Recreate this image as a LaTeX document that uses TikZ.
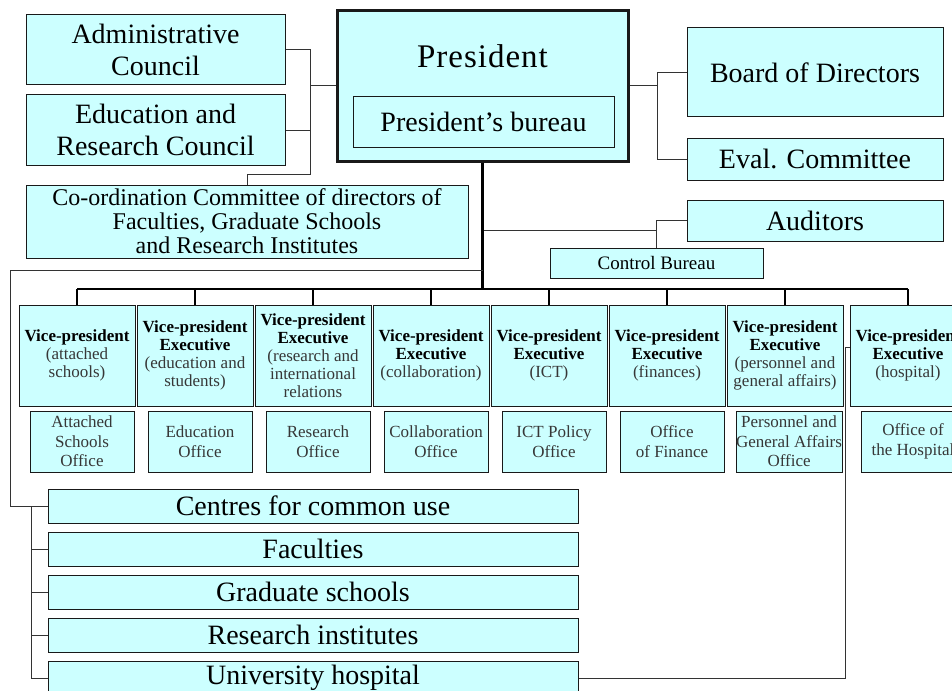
\documentclass[tikz,border=0pt]{standalone}
\usepackage{fontspec}
\setmainfont{Liberation Serif}
\usepackage{xcolor}
\usetikzlibrary{positioning}

\definecolor{boxcyan}{RGB}{204,255,255}
\definecolor{txtgray}{RGB}{55,55,55}
\newcommand{\vpsub}[1]{\textcolor{txtgray}{#1}}

\begin{document}
\begin{tikzpicture}[
  x=1pt, y=-1pt,
  every node/.style={inner sep=0pt},
  box/.style={rectangle, draw=black!90, fill=boxcyan, line width=1pt, align=center},
  bigbox/.style={box, font=\fontsize{28}{32}\selectfont},
  vpbox/.style={box, minimum width=116pt, minimum height=101pt,
                font=\fontsize{17}{18}\selectfont},
  office/.style={box, minimum width=104pt, minimum height=61pt, text=txtgray,
                 font=\fontsize{17}{19.5}\selectfont},
  unit/.style={bigbox, minimum width=530pt, minimum height=34pt},
  link/.style={draw=black!80, line width=1pt},
  drop/.style={draw=black, line width=1.2pt},
  trunk/.style={draw=black, line width=2.6pt}
]
\useasboundingbox (0,0) rectangle (952,690);
\clip (0,0) rectangle (952,690);

% ── President and councils ─────────────────────
\node[box, line width=3pt, minimum width=291pt, minimum height=150pt] (pres) at (482.5,86) {};
\node[anchor=base, font=\fontsize{33}{33}\selectfont\addfontfeature{LetterSpace=3}] (prestitle) at (482.5,68) {President};
\node[bigbox, minimum width=261pt, minimum height=50pt] (bureau) at (483.5,122) {President’s bureau};

\node[bigbox, minimum width=259pt, minimum height=70pt] (adm) at (155.5,50) {Administrative\\Council};
\node[bigbox, minimum width=259pt, minimum height=70pt, below=9pt of adm] (erc) {Education and\\Research Council};
\node[box, minimum width=442pt, minimum height=73pt, font=\fontsize{24}{24}\selectfont] (coord) at (247,221.5)
  {Co-ordination Committee of directors of\\Faculties, Graduate Schools\\and Research Institutes};

\coordinate (lj) at (310,50);
\coordinate (ljb) at (310,174);
\draw[link] (adm.east) -- (lj) -- (ljb) -| (coord.north);
\draw[link] (erc.east) -- (erc.east -| lj);
\draw[link] (pres.west) -- (pres.west -| lj);

% ── Board, evaluation, audit ───────────────────
\node[bigbox, minimum width=256pt, minimum height=89pt] (board) at (815,72.5) {Board of Directors};
\node[bigbox, minimum width=256pt, minimum height=42pt] (eval) at (815,159) {Eval. Committee};
\node[bigbox, minimum width=256pt, minimum height=41pt] (aud) at (815,220.5) {Auditors};
\node[box, minimum width=213pt, minimum height=30pt, font=\fontsize{19}{20}\selectfont] (ctrl) at (656.5,263) {Control Bureau};

\coordinate (rj) at (657,73);
\draw[link] (board.west) -- (board.west -| rj) |- (eval.west);
\draw[link] (pres.east) -- (pres.east -| rj);
\draw[link] (aud.west) -| (ctrl.north);
\coordinate (cj) at (656.5,230);
\draw[link] (pres.south |- cj) -- (cj);

% ── Vice-presidents ────────────────────────────
\node[vpbox] (vp1) at (77,355.5) {\textbf{Vice-president}\\\vpsub{(attached}\\\vpsub{schools)}};
\node[vpbox, right=1pt of vp1] (vp2) {\textbf{Vice-president}\\\textbf{Executive}\\\vpsub{(education and}\\\vpsub{students)}};
\node[vpbox, right=1pt of vp2] (vp3) {\textbf{Vice-president}\\\textbf{Executive}\\\vpsub{(research and}\\\vpsub{international}\\\vpsub{relations}};
\node[vpbox, right=1pt of vp3] (vp4) {\textbf{Vice-president}\\\textbf{Executive}\\\vpsub{(collaboration)}};
\node[vpbox, right=1pt of vp4] (vp5) {\textbf{Vice-president}\\\textbf{Executive}\\\vpsub{(ICT)}};
\node[vpbox, right=1pt of vp5] (vp6) {\textbf{Vice-president}\\\textbf{Executive}\\\vpsub{(finances)}};
\node[vpbox, right=1pt of vp6] (vp7) {\textbf{Vice-president}\\\textbf{Executive}\\\vpsub{(personnel and}\\\vpsub{general affairs)}};
\node[vpbox, right=6pt of vp7] (vp8) {\textbf{Vice-president}\\\textbf{Executive}\\\vpsub{(hospital)}};

\node[office, below left=4pt and 1pt of vp1.south east] (off1) {Attached\\Schools\\Office};
\node[office, below left=4pt and 1pt of vp2.south east] (off2) {Education\\Office};
\node[office, below left=4pt and 1pt of vp3.south east] (off3) {Research\\Office};
\node[office, below left=4pt and 1pt of vp4.south east] (off4) {Collaboration\\Office};
\node[office, below left=4pt and 1pt of vp5.south east] (off5) {ICT Policy\\Office};
\node[office, below left=4pt and 1pt of vp6.south east] (off6) {Office\\of Finance};
\node[office, below left=4pt and 1pt of vp7.south east] (off7) {Personnel and\\General Affairs\\Office};
\node[office, below left=4pt and 1pt of vp8.south east] (off8) {Office of\\the Hospital};

\coordinate (bus) at (483,289);
\draw[trunk] (pres.south) -- (pres.south |- bus);
\draw[draw=black, line width=2pt] (vp1.north |- bus) -- (vp8.north |- bus);
\foreach \v in {vp1,vp2,vp3,vp4,vp5,vp6,vp7,vp8}
  \draw[drop] (\v.north |- bus) -- (\v.north);

% ── Faculties and other units ──────────────────
\node[unit] (cen) at (313,506) {Centres for common use};
\node[unit, below=8pt of cen] (fac) {Faculties};
\node[unit, below=8pt of fac] (grad) {Graduate schools};
\node[unit, below=8pt of grad] (inst) {Research institutes};
\node[unit, below=8pt of inst] (hosp) {University hospital};

\coordinate (lw) at (10,270);
\draw[link] (pres.south |- lw) -- (lw) |- (cen.west);
\coordinate (lk) at (31,506);
\draw[link] (lk) |- (hosp.west);
\foreach \u in {fac,grad,inst}
  \draw[link] (\u.west -| lk) -- (\u.west);
\draw[link] (hosp.east) -| ([xshift=-4pt,yshift=8pt]vp8.west) -- ([yshift=8pt]vp8.west);
\end{tikzpicture}
\end{document}
